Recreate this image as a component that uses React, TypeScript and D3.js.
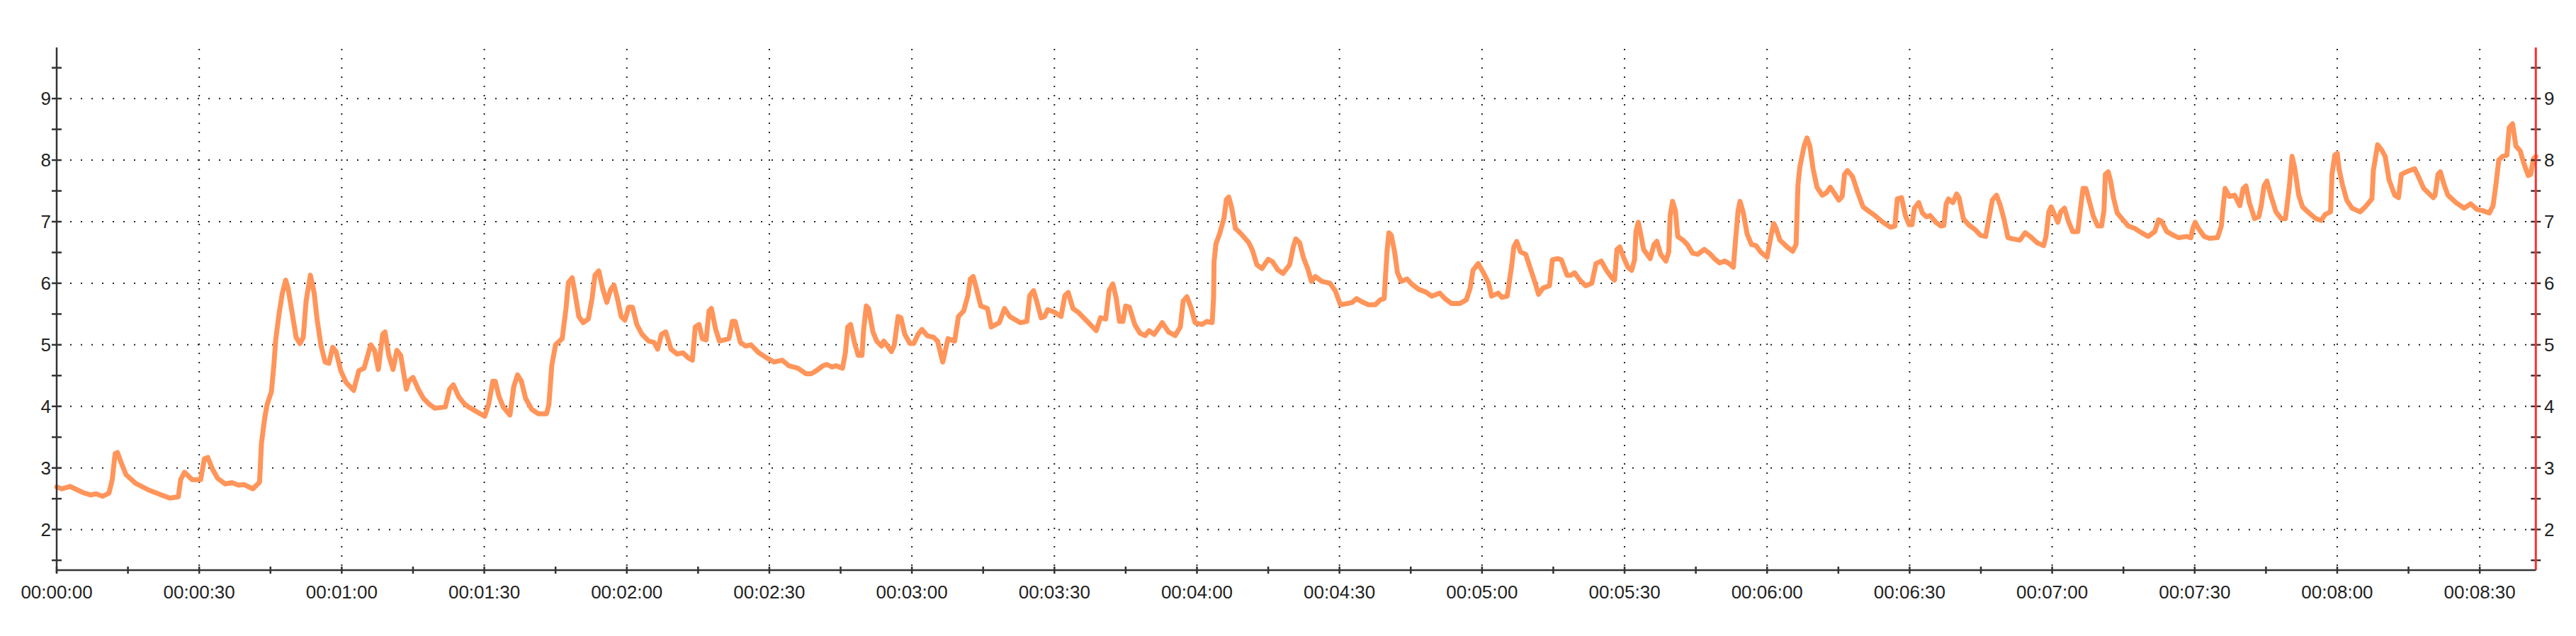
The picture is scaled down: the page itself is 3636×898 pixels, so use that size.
import React from "react";
import * as d3 from "d3";

// ---- data (seconds, value) ----
const times: number[] = [
  0, 1.1, 2.8, 3.9, 5.5, 7.2, 8.3, 9.7, 11.0, 11.7, 12.3, 12.8, 13.5, 14.6, 16.6, 19.4, 22.1, 23.8, 25.6, 26.1,
  26.9, 28.5, 30.3, 31.1, 31.8, 32.8, 33.9, 35.5, 36.9, 38.3, 39.4, 41.3, 42.7, 43.1, 43.8, 44.3, 45.2, 45.7, 46.1, 46.8,
  47.5, 48.2, 48.7, 49.6, 50.4, 51.2, 51.9, 52.5, 53.4, 54.2, 54.8, 55.6, 56.5, 57.3, 58.1, 58.8, 59.8, 60.9, 62.5, 63.6,
  64.7, 66.1, 66.9, 67.7, 68.6, 69.1, 69.9, 70.8, 71.6, 72.4, 73.6, 74.1, 75.0, 76.1, 77.2, 78.5, 79.6, 81.8, 82.7, 83.5,
  84.6, 85.7, 86.7, 88.7, 90.1, 90.9, 91.8, 92.3, 93.1, 94.0, 95.4, 96.2, 97.0, 97.8, 98.7, 100.0, 101.4, 103.1, 103.6, 104.2,
  105.0, 106.4, 107.2, 107.7, 108.5, 109.1, 109.9, 110.8, 111.9, 112.7, 113.3, 114.1, 114.9, 115.8, 116.6, 117.3, 118.0, 118.8, 119.6, 120.4,
  121.2, 122.1, 123.2, 124.6, 125.7, 126.5, 127.3, 128.2, 129.3, 130.6, 131.8, 132.9, 133.8, 134.4, 135.2, 135.9, 136.7, 137.3, 137.8, 138.7,
  139.5, 141.5, 142.2, 142.8, 143.9, 145.0, 146.1, 147.8, 149.4, 151.0, 152.7, 154.1, 156.0, 157.7, 158.8, 159.9, 161.3, 162.1, 163.2, 164.0,
  165.4, 166.0, 166.5, 167.1, 167.9, 168.7, 169.5, 169.8, 170.4, 170.9, 171.8, 172.6, 173.6, 174.1, 175.7, 176.3, 177.1, 177.7, 178.5, 179.6,
  180.4, 181.3, 182.1, 183.2, 184.6, 185.4, 186.5, 187.6, 189.0, 189.8, 190.9, 191.8, 192.3, 192.9, 193.4, 194.5, 195.9, 196.7, 198.4, 199.5,
  200.6, 202.8, 204.2, 204.8, 205.6, 206.4, 207.2, 207.9, 208.6, 210.0, 211.4, 212.2, 212.9, 213.9, 215.0, 216.9, 218.8, 219.7, 220.8, 221.5,
  222.3, 223.0, 223.7, 224.4, 225.0, 225.8, 226.9, 228.0, 229.1, 229.9, 231.0, 232.7, 234.0, 235.4, 236.5, 237.1, 237.9, 238.8, 239.6, 241.0,
  242.1, 243.2, 243.5, 243.6, 244.0, 244.8, 245.7, 246.2, 246.7, 247.3, 248.1, 249.2, 250.9, 251.7, 252.6, 253.7, 255.0, 255.9, 257.0, 258.1,
  259.5, 260.3, 260.8, 261.6, 262.4, 263.3, 264.1, 264.9, 266.3, 268.0, 269.1, 270.2, 271.6, 272.7, 273.6, 274.7, 276.1, 277.5, 278.6, 279.4,
  280.0, 280.4, 280.9, 281.6, 282.2, 283.0, 284.2, 285.3, 286.7, 288.1, 289.4, 291.1, 292.2, 293.6, 295.3, 296.7, 297.5, 298.1, 299.2, 300.3,
  301.4, 302.0, 303.4, 304.2, 305.3, 306.2, 306.7, 307.3, 308.1, 309.2, 310.3, 311.2, 311.9, 312.8, 314.2, 314.8, 315.9, 316.7, 317.9, 318.7,
  319.5, 320.6, 321.8, 323.1, 324.0, 325.1, 326.2, 327.3, 327.9, 328.4, 329.0, 329.8, 330.7, 331.5, 332.1, 332.4, 332.9, 333.5, 334.0, 335.4,
  336.2, 336.8, 337.6, 338.7, 339.3, 339.6, 340.1, 340.7, 341.2, 342.3, 343.2, 344.3, 345.4, 346.8, 348.1, 348.9, 350.0, 351.1, 352.0, 352.9,
  353.4, 353.9, 354.3, 355.0, 355.8, 356.7, 357.7, 358.6, 360.0, 360.8, 361.4, 361.9, 362.7, 364.2, 365.4, 366.1, 366.5, 366.9, 367.8, 368.4,
  369.0, 369.7, 370.5, 371.6, 372.5, 373.3, 374.1, 375.1, 375.8, 376.3, 376.9, 378.0, 379.1, 380.2, 381.6, 382.7, 384.4, 386.0, 386.9, 387.4,
  388.3, 389.1, 389.9, 390.5, 391.0, 391.9, 392.7, 393.5, 394.3, 395.5, 396.6, 397.2, 397.7, 398.2, 399.1, 399.9, 400.4, 401.3, 402.4, 403.8,
  404.9, 406.0, 406.6, 407.4, 408.3, 409.1, 409.9, 410.7, 411.8, 413.2, 414.3, 415.4, 416.8, 418.2, 418.7, 419.3, 419.8, 420.6, 421.2, 421.8,
  422.6, 423.4, 424.3, 425.4, 425.9, 426.5, 427.1, 427.9, 428.7, 429.6, 430.4, 430.9, 431.2, 431.8, 432.3, 432.9, 433.7, 434.7, 436.0, 437.4,
  438.8, 440.2, 441.6, 442.4, 443.0, 444.1, 445.5, 446.6, 448.3, 449.2, 449.6, 450.1, 450.8, 452.0, 453.1, 454.8, 455.6, 455.9, 456.4, 457.3,
  458.4, 459.5, 460.2, 460.8, 461.5, 462.6, 463.5, 464.0, 464.6, 465.2, 466.0, 467.1, 468.2, 469.1, 469.9, 470.5, 471.0, 471.9, 472.7, 474.1,
  475.5, 476.6, 477.5, 478.6, 478.9, 479.5, 480.0, 480.4, 481.1, 482.0, 483.1, 484.8, 485.9, 487.3, 487.6, 488.5, 489.3, 490.1, 490.9, 492.1,
  492.9, 493.5, 494.6, 496.3, 497.1, 498.2, 500.2, 500.6, 501.2, 501.7, 502.5, 503.3, 505.0, 506.7, 508.1, 509.4, 510.6, 512.0, 512.8, 513.4,
  514.0, 514.8, 515.7, 516.2, 516.9, 517.6, 518.5, 519.3, 520.2, 520.7, 521.3, 521.8,
];

const values: number[] = [
  2.69, 2.66, 2.7, 2.66, 2.6, 2.56, 2.58, 2.54, 2.59, 2.81, 3.23, 3.25, 3.1, 2.89, 2.75, 2.64, 2.56, 2.51, 2.53, 2.81,
  2.93, 2.81, 2.81, 3.15, 3.17, 2.98, 2.83, 2.74, 2.76, 2.72, 2.73, 2.66, 2.77, 3.4, 3.82, 4.03, 4.24, 4.66, 5.08, 5.5,
  5.84, 6.05, 5.92, 5.5, 5.12, 5.02, 5.12, 5.71, 6.13, 5.84, 5.42, 5.0, 4.72, 4.7, 4.96, 4.89, 4.58, 4.39, 4.26, 4.58,
  4.62, 5.0, 4.91, 4.6, 5.17, 5.21, 4.83, 4.6, 4.91, 4.83, 4.28, 4.41, 4.47, 4.28, 4.13, 4.03, 3.97, 3.99, 4.28, 4.35,
  4.16, 4.05, 3.99, 3.9, 3.84, 4.03, 4.41, 4.41, 4.16, 3.99, 3.86, 4.32, 4.51, 4.41, 4.13, 3.95, 3.88, 3.88, 4.03, 4.66,
  5.0, 5.1, 5.59, 6.01, 6.09, 5.84, 5.46, 5.36, 5.42, 5.76, 6.13, 6.2, 5.92, 5.69, 5.9, 5.97, 5.76, 5.46, 5.4, 5.61,
  5.61, 5.33, 5.17, 5.06, 5.04, 4.93, 5.17, 5.21, 4.93, 4.85, 4.87, 4.79, 4.75, 5.29, 5.33, 5.1, 5.08, 5.55, 5.59, 5.25,
  5.06, 5.1, 5.38, 5.38, 5.04, 4.98, 5.0, 4.87, 4.79, 4.72, 4.75, 4.66, 4.62, 4.53, 4.53, 4.58, 4.66, 4.68, 4.64, 4.66,
  4.62, 4.87, 5.29, 5.33, 5.04, 4.83, 4.83, 5.21, 5.63, 5.59, 5.21, 5.06, 4.98, 5.06, 4.89, 5.0, 5.46, 5.44, 5.17, 5.02,
  5.02, 5.17, 5.25, 5.15, 5.12, 5.06, 4.72, 5.1, 5.06, 5.46, 5.55, 5.8, 6.07, 6.11, 5.97, 5.63, 5.59, 5.29, 5.36, 5.59,
  5.46, 5.36, 5.38, 5.8, 5.88, 5.67, 5.44, 5.46, 5.57, 5.53, 5.46, 5.8, 5.85, 5.59, 5.53, 5.38, 5.23, 5.44, 5.42, 5.88,
  5.99, 5.76, 5.38, 5.38, 5.63, 5.61, 5.33, 5.19, 5.15, 5.23, 5.17, 5.36, 5.21, 5.15, 5.29, 5.71, 5.78, 5.59, 5.36, 5.33,
  5.38, 5.36, 5.76, 6.35, 6.64, 6.81, 7.06, 7.36, 7.4, 7.23, 6.89, 6.81, 6.66, 6.53, 6.3, 6.24, 6.39, 6.35, 6.22, 6.16,
  6.3, 6.6, 6.72, 6.66, 6.42, 6.24, 6.03, 6.11, 6.03, 6.0, 5.88, 5.65, 5.67, 5.69, 5.75, 5.7, 5.65, 5.65, 5.73, 5.75,
  6.51, 6.82, 6.78, 6.51, 6.17, 6.03, 6.07, 5.98, 5.9, 5.86, 5.79, 5.84, 5.75, 5.67, 5.67, 5.73, 5.92, 6.21, 6.32, 6.17,
  6.0, 5.79, 5.84, 5.77, 5.79, 6.26, 6.59, 6.68, 6.51, 6.47, 6.21, 6.0, 5.82, 5.92, 5.96, 6.38, 6.4, 6.38, 6.13, 6.13,
  6.17, 6.05, 5.96, 6.0, 6.32, 6.36, 6.21, 6.09, 6.05, 6.55, 6.59, 6.42, 6.26, 6.21, 6.38, 6.84, 6.99, 6.76, 6.55, 6.4,
  6.63, 6.68, 6.47, 6.36, 6.51, 7.1, 7.33, 7.18, 6.76, 6.7, 6.63, 6.49, 6.47, 6.55, 6.47, 6.4, 6.33, 6.36, 6.32, 6.26,
  6.74, 7.18, 7.33, 7.14, 6.8, 6.63, 6.61, 6.51, 6.42, 6.76, 6.97, 6.89, 6.7, 6.59, 6.52, 6.63, 7.6, 7.89, 8.23, 8.36,
  8.23, 7.85, 7.56, 7.43, 7.47, 7.56, 7.47, 7.35, 7.41, 7.77, 7.83, 7.73, 7.47, 7.24, 7.16, 7.1, 6.99, 6.91, 6.93, 7.37,
  7.39, 7.1, 6.95, 6.95, 7.22, 7.31, 7.14, 7.08, 7.1, 6.99, 6.93, 6.94, 7.29, 7.37, 7.31, 7.45, 7.39, 7.05, 6.95, 6.87,
  6.78, 6.76, 7.01, 7.35, 7.43, 7.26, 7.03, 6.74, 6.72, 6.7, 6.82, 6.76, 6.66, 6.61, 6.76, 7.16, 7.24, 7.1, 6.99, 7.16,
  7.22, 7.01, 6.84, 6.84, 7.18, 7.54, 7.54, 7.31, 7.08, 6.93, 6.93, 7.18, 7.77, 7.81, 7.66, 7.39, 7.14, 7.05, 6.93, 6.89,
  6.82, 6.76, 6.84, 7.03, 7.01, 6.84, 6.78, 6.74, 6.76, 6.74, 6.89, 6.99, 6.89, 6.76, 6.73, 6.74, 6.93, 7.18, 7.54, 7.41,
  7.43, 7.26, 7.54, 7.58, 7.31, 7.05, 7.08, 7.26, 7.58, 7.66, 7.43, 7.16, 7.05, 7.05, 7.56, 8.06, 7.89, 7.43, 7.24, 7.14,
  7.05, 7.02, 7.12, 7.16, 7.77, 8.08, 8.11, 7.85, 7.6, 7.35, 7.22, 7.16, 7.24, 7.37, 7.83, 8.25, 8.17, 8.06, 7.68, 7.43,
  7.39, 7.77, 7.81, 7.86, 7.73, 7.54, 7.39, 7.43, 7.77, 7.81, 7.6, 7.43, 7.31, 7.22, 7.29, 7.2, 7.18, 7.14, 7.26, 7.6,
  8.0, 8.06, 8.08, 8.53, 8.59, 8.23, 8.15, 7.94, 7.75, 7.77, 8.02, 8.06,
];

const xTickSeconds: number[] = [0, 30, 60, 90, 120, 150, 180, 210, 240, 270, 300, 330, 360, 390, 420, 450, 480, 510];
const xTickLabels: string[] = [
  "00:00:00", "00:00:30", "00:01:00", "00:01:30", "00:02:00", "00:02:30", "00:03:00", "00:03:30", "00:04:00",
  "00:04:30", "00:05:00", "00:05:30", "00:06:00", "00:06:30", "00:07:00", "00:07:30", "00:08:00", "00:08:30",
];
const yTickValues: number[] = [2, 3, 4, 5, 6, 7, 8, 9];
const yTickLabels: string[] = ["2", "3", "4", "5", "6", "7", "8", "9"];

const W = 3636;
const H = 898;
const FONT = "'Liberation Sans', Arial, sans-serif";

export default function App() {
  const left = 80;
  const right = 3579.3;
  const top = 67;
  const bottom = 805;

  const x = d3.scaleLinear().domain([0, 521.8]).range([left, right]);
  const y = d3.scaleLinear().domain([1.34, 9.83]).range([bottom, top]);

  const pts: [number, number][] = times.map((t, i) => [t, values[i]]);
  const line = d3
    .line<[number, number]>()
    .x((d) => x(d[0]))
    .y((d) => y(d[1]))
    .curve(d3.curveLinear);

  const xMinor = d3.range(0, 521, 15);
  const yMinor = d3.range(1.5, 9.6, 0.5);

  const axisColor = "#333";
  const gridColor = "#222";

  return (
    <svg
      width={W}
      height={H}
      style={{ position: "absolute", left: 0, top: 0, background: "#fff" }}
    >
      <rect x={0} y={0} width={W} height={H} fill="#fff" />
      {/* horizontal grid */}
      {yTickValues.map((v) => (
        <line
          key={"hg" + v}
          x1={left + 4}
          x2={right - 4}
          y1={y(v)}
          y2={y(v)}
          stroke={gridColor}
          strokeWidth={2}
          strokeDasharray="2 13"
        />
      ))}
      {/* vertical grid */}
      {xTickSeconds
        .filter((s) => s > 0)
        .map((s) => (
          <line
            key={"vg" + s}
            x1={x(s)}
            x2={x(s)}
            y1={top + 2}
            y2={bottom}
            stroke={gridColor}
            strokeWidth={2}
            strokeDasharray="2 11"
          />
        ))}

      {/* data line */}
      <path
        d={line(pts) || ""}
        fill="none"
        stroke="#FF955A"
        strokeWidth={7}
        strokeLinejoin="round"
        strokeLinecap="round"
      />

      {/* left axis */}
      <line x1={left} x2={left} y1={top} y2={bottom + 4} stroke={axisColor} strokeWidth={2.5} />
      {yMinor.map((v) => (
        <line key={"ly" + v} x1={left - 7} x2={left + 7} y1={y(v)} y2={y(v)} stroke={axisColor} strokeWidth={2.5} />
      ))}
      {yTickValues.map((v, i) => (
        <text
          key={"lt" + v}
          x={72}
          y={y(v)}
          textAnchor="end"
          dominantBaseline="central"
          fontFamily={FONT}
          fontSize={26}
          fill="#222"
        >
          {yTickLabels[i]}
        </text>
      ))}

      {/* right axis */}
      {yMinor.map((v) => (
        <line key={"ry" + v} x1={right - 7} x2={right + 7} y1={y(v)} y2={y(v)} stroke={axisColor} strokeWidth={2.5} />
      ))}
      <line x1={right} x2={right} y1={top} y2={bottom} stroke="#FF3030" strokeWidth={3} />
      {yTickValues.map((v, i) => (
        <text
          key={"rt" + v}
          x={3591}
          y={y(v)}
          textAnchor="start"
          dominantBaseline="central"
          fontFamily={FONT}
          fontSize={26}
          fill="#222"
        >
          {yTickLabels[i]}
        </text>
      ))}

      {/* bottom axis */}
      <line x1={left} x2={right} y1={bottom} y2={bottom} stroke={axisColor} strokeWidth={2.5} />
      {xMinor.map((s) => (
        <line key={"xt" + s} x1={x(s)} x2={x(s)} y1={bottom - 5} y2={bottom + 5} stroke={axisColor} strokeWidth={2.5} />
      ))}
      {xTickSeconds.map((s, i) => (
        <text
          key={"xl" + s}
          x={x(s)}
          y={845}
          textAnchor="middle"
          fontFamily={FONT}
          fontSize={26}
          fill="#222"
        >
          {xTickLabels[i]}
        </text>
      ))}
    </svg>
  );
}
